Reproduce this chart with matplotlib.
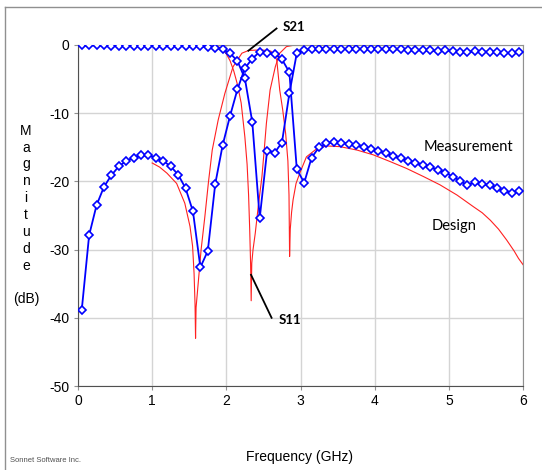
import matplotlib
matplotlib.use("Agg")
import matplotlib.pyplot as plt
from matplotlib.lines import Line2D

plt.rcParams["axes.unicode_minus"] = False

# measured data (0.1 GHz steps)
meas_freq = [0.05 + 0.1 * k for k in range(60)]
meas_s21 = [-38.9, -27.9, -23.5, -20.8, -19.1, -17.8, -17.0, -16.5, -16.2, -16.2,
            -16.5, -17.0, -17.8, -19.0, -21.0, -24.4, -32.6, -30.2, -20.4, -14.7,
            -10.4, -6.5, -3.4, -2.0, -1.0, -1.1, -1.3, -2.1, -4.0, -18.2,
            -20.2, -16.5, -15.0, -14.4, -14.2, -14.3, -14.5, -14.7, -14.95, -15.2,
            -15.5, -15.9, -16.3, -16.6, -17.0, -17.3, -17.6, -17.9, -18.3, -18.7,
            -19.3, -19.9, -20.6, -20.1, -20.4, -20.6, -21.0, -21.4, -21.7, -21.4]
meas_s11 = [0.0, -0.05, -0.05, -0.05, -0.1, -0.1, -0.15, -0.15, -0.15, -0.15,
            -0.15, -0.15, -0.1, -0.15, -0.1, -0.2, -0.2, -0.25, -0.4, -0.65,
            -1.2, -2.35, -4.9, -11.3, -25.4, -15.5, -15.8, -14.3, -7.1, -1.2,
            -0.7, -0.63, -0.63, -0.6, -0.6, -0.6, -0.6, -0.6, -0.6, -0.6,
            -0.63, -0.6, -0.63, -0.63, -0.73, -0.78, -0.78, -0.78, -0.88, -0.78,
            -0.88, -0.98, -1.07, -0.88, -0.98, -0.98, -1.07, -1.17, -1.17, -1.07]

# design data
des21_freq = [1.0, 1.1, 1.2, 1.33, 1.44, 1.51, 1.545, 1.565, 1.578, 1.585, 1.592,
              1.62, 1.66, 1.71, 1.76, 1.81, 1.89, 1.98, 2.09, 2.21, 2.3, 2.4, 2.5,
              2.6, 2.65, 2.68, 2.72, 2.76, 2.8, 2.83, 2.845, 2.853, 2.862, 2.88,
              2.9, 2.94, 2.99, 3.08, 3.22, 3.35, 3.53, 3.76, 3.98, 4.21, 4.43,
              4.66, 4.88, 5.11, 5.33, 5.45, 5.56, 5.67, 5.78, 5.88, 5.94, 6.0]
des21_db = [-17.3, -17.9, -18.8, -20.3, -23.2, -26.6, -29.5, -33.5, -38, -43, -38.5,
            -35, -30, -25.2, -20, -15.4, -11, -7.1, -3.2, -1.2, -0.8, -0.75, -0.75,
            -0.9, -1.5, -2.2, -6.6, -9.5, -13, -17, -22, -31, -27, -24.5,
            -22.7, -20.3, -18.8, -16.4, -15.2, -14.8, -14.9, -15.4, -16.1, -17.1, -18.1,
            -19.3, -20.5, -22, -23.7, -24.6, -25.7, -27.0, -28.6, -30.2, -31.3, -32.2]
des11_freq = [1.0, 1.5, 1.8, 1.9, 1.95, 2.0, 2.05, 2.1, 2.15, 2.2, 2.25, 2.28, 2.3,
              2.315, 2.327, 2.335, 2.343, 2.36, 2.39, 2.43, 2.48, 2.51, 2.54, 2.59,
              2.66, 2.72, 2.81, 2.9, 3.0, 6.0]
des11_db = [0, -0.02, -0.05, -0.3, -0.7, -1.3, -2.3, -3.8, -5.8, -8.5, -13.5, -17.5, -22,
            -27, -32, -37.5, -32, -30, -27.6, -23.7, -19.3, -15.5, -11.5, -6.6,
            -3.2, -1.2, -0.24, -0.05, 0, 0]

fig = plt.figure(figsize=(5.42, 4.70), dpi=100)
ax = fig.add_axes([78 / 542, 84 / 470, 445 / 542, 341 / 470])

ax.plot(des21_freq, des21_db, color="#ff2020", lw=0.8, zorder=2)
ax.plot(des11_freq, des11_db, color="#ff2020", lw=0.8, zorder=2)

mk = dict(color="#0000ff", lw=1.3, marker="D", ms=3.8, mfc="white",
          mec="#0000ff", mew=1.2, zorder=3)
ax.plot(meas_freq, meas_s21, **mk)
ax.plot(meas_freq, meas_s11, **mk)

ax.set_xlim(0, 6)
ax.set_ylim(-50, 0)
ax.set_xticks(range(0, 7))
ax.set_yticks(range(-50, 1, 10))
ax.grid(True, color="#d4d4d4", lw=1.0)
ax.set_axisbelow(True)
for s in ["left", "bottom"]:
    ax.spines[s].set_color("#505050")
for s in ["top", "right"]:
    ax.spines[s].set_color("#909090")
ax.tick_params(length=3, color="#909090", labelsize=10, pad=3)
for lab in ax.get_xticklabels() + ax.get_yticklabels():
    lab.set_family("Liberation Sans")

fig.text(26 / 542, 1 - 215 / 470, "M\na\ng\nn\ni\nt\nu\nd\ne\n\n(dB)",
         ha="center", va="center", fontsize=10, family="Liberation Sans",
         linespacing=1.26)
fig.text(300 / 542, 1 - 457 / 470, "Frequency (GHz)", ha="center", va="center",
         fontsize=10, family="Liberation Sans")
fig.text(10 / 542, 1 - 460 / 470, "Sonnet Software Inc.", ha="left", va="center",
         fontsize=5.5, family="Liberation Sans", color="#505050")

# annotations
ax.plot([2.677, 2.297], [2.42, -0.84], color="black", lw=1.3, clip_on=False, zorder=4)
ax.text(2.76, 2.6, "S21", fontsize=9.5, fontweight="bold", family="Lato",
        ha="left", va="center")
ax.plot([2.333, 2.61], [-33.7, -40.0], color="black", lw=1.3, zorder=4)
ax.text(2.71, -40.3, "S11", fontsize=9.5, fontweight="bold", family="Lato",
        ha="left", va="center")
ax.text(5.258, -14.9, "Measurement", fontsize=10.5, family="Lato",
        ha="center", va="center")
ax.text(5.064, -26.5, "Design", fontsize=10.5, family="Lato",
        ha="center", va="center")

# outer frame (left and top edges)
fig.add_artist(Line2D([4.5 / 542, 4.5 / 542], [0, 1 - 6.5 / 470], color="#909090", lw=1.0))
fig.add_artist(Line2D([4.5 / 542, 1], [1 - 6.5 / 470, 1 - 6.5 / 470], color="#909090", lw=1.0))

fig.savefig("out.png", dpi=100)
